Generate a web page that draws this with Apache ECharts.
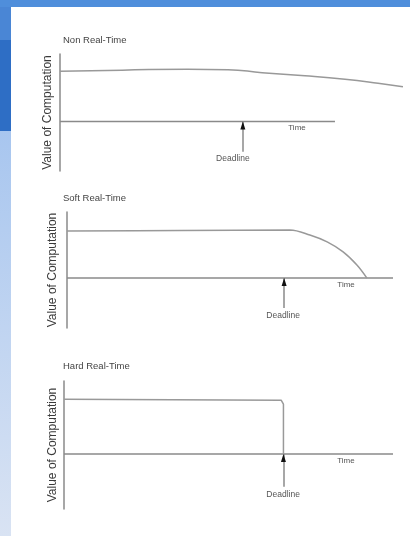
<!DOCTYPE html>
<html>
<head>
<meta charset="utf-8">
<script src="https://cdn.jsdelivr.net/npm/echarts@6/dist/echarts.min.js"></script>
<style>
html,body{margin:0;padding:0;background:#fff;}
#chart{width:410px;height:536px;}
</style>
</head>
<body>
<div id="chart"></div>
<script>
// ---- data ----
const chartTitles = ['Non Real-Time', 'Soft Real-Time', 'Hard Real-Time'];
const yAxisName = 'Value of Computation';
const timeLabel = 'Time';
const deadlineLabel = 'Deadline';

const nonRealTimeCurve = [[0,10.0],[18,10.2],[37,10.4],[48.7,10.3],[58.6,9.7],[71,9.1],[82.6,8.4],[92.2,7.6],[99.4,6.9]];
const softRealTimeCurve = [[0,9.9],[34.7,10.0],[68.4,10.1],[74.5,9.05],[79.8,7.6],[84.7,5.5],[89.0,2.7],[92.0,0]];
const hardRealTimeCurve = [[0,10.1],[66.0,9.95],[66.5,9.75],[66.7,9.2],[66.7,0]];

const timeAxisEnd = [79.7, 100, 100];
const deadlines = [53.0, 66.6, 66.7];
const deadlineShaftBottom = [-6.0, -6.3, -6.1];
const yMin = [-9.8, -10.5, -10.2];
const yMax = [13.4, 13.9, 13.5];
const xMax = [100, 100, 100];

// ---- layout ----
const grids = [
  {left: 60, top: 54, width: 345, height: 117},
  {left: 67, top: 212, width: 326, height: 116},
  {left: 64, top: 381, width: 329, height: 128}
];
const titleTops = [30, 188, 356];
const nameGaps = [6, 8, 5];
const deadlineLabelPos = [[50.1,-7.4],[66.3,-8.0],[66.6,-7.6]];
const timeLabelPos = [[68.7,-1.3],[85.6,-1.5],[85.7,-1.3]];
const curves = [nonRealTimeCurve, softRealTimeCurve, hardRealTimeCurve];
const smoothFlags = [true, 0.35, false];

const FONT = '"Liberation Sans", Arial, sans-serif';
const AXIS_COLOR = '#8a8a8a';
const CURVE_COLOR = '#999999';

const chart = echarts.init(document.getElementById('chart'), null, {renderer: 'canvas'});

const xAxes = [], yAxes = [], series = [], titles = [];
for (let i = 0; i < 3; i++) {
  titles.push({
    text: chartTitles[i], left: 58, top: titleTops[i],
    textStyle: {fontSize: 9.5, fontWeight: 'normal', color: '#444', fontFamily: FONT}
  });
  xAxes.push({
    type: 'value', gridIndex: i, min: 0, max: xMax[i],
    show: false
  });
  yAxes.push({
    type: 'value', gridIndex: i, min: yMin[i], max: yMax[i],
    axisLine: {show: true, onZero: false, lineStyle: {color: AXIS_COLOR, width: 1.5}},
    axisTick: {show: false}, axisLabel: {show: false}, splitLine: {show: false},
    name: yAxisName, nameLocation: 'middle', nameRotate: 90, nameGap: nameGaps[i],
    nameTextStyle: {fontSize: 12, color: '#3a3a3a', fontFamily: FONT}
  });
  // time axis line with deadline arrow & labels
  series.push({
    type: 'line', xAxisIndex: i, yAxisIndex: i,
    data: [[0,0],[timeAxisEnd[i],0]],
    symbol: 'none', silent: true, animation: false,
    lineStyle: {color: AXIS_COLOR, width: 1.5},
    markLine: {
      silent: true, animation: false, symbol: ['none','none'],
      lineStyle: {color: AXIS_COLOR, width: 1.5, type: 'solid'},
      label: {show: false},
      data: [[{coord: [deadlines[i], deadlineShaftBottom[i]]}, {coord: [deadlines[i], 0]}]]
    },
    markPoint: {
      silent: true, animation: false,
      data: [
        {coord: [deadlines[i], 0], symbol: 'triangle', symbolSize: [5, 8], symbolOffset: [0, 4],
          itemStyle: {color: '#111'}, label: {show: false}},
        {coord: deadlineLabelPos[i], symbolSize: 0,
          label: {show: true, position: 'inside', formatter: deadlineLabel, fontSize: 8.5, color: '#555', fontFamily: FONT}},
        {coord: timeLabelPos[i], symbolSize: 0,
          label: {show: true, position: 'inside', formatter: timeLabel, fontSize: 8, color: '#555', fontFamily: FONT}}
      ]
    }
  });
  series.push({
    type: 'line', xAxisIndex: i, yAxisIndex: i,
    data: curves[i], smooth: smoothFlags[i],
    symbol: 'none', silent: true, animation: false,
    lineStyle: {color: CURVE_COLOR, width: 1.5}
  });
}

chart.setOption({
  backgroundColor: '#ffffff',
  animation: false,
  title: titles,
  grid: grids,
  xAxis: xAxes,
  yAxis: yAxes,
  series: series,
  graphic: [
    {type: 'rect', silent: true, z: -10, shape: {x: 0, y: 0, width: 410, height: 7}, style: {fill: '#4f8edb'}},
    {type: 'rect', silent: true, z: -10, shape: {x: 0, y: 7, width: 11, height: 33}, style: {fill: '#4a86d5'}},
    {type: 'rect', silent: true, z: -10, shape: {x: 0, y: 40, width: 11, height: 91}, style: {fill: '#2e6ec5'}},
    {type: 'rect', silent: true, z: -10, shape: {x: 0, y: 131, width: 11, height: 405},
      style: {fill: new echarts.graphic.LinearGradient(0, 0, 0, 1, [
        {offset: 0, color: '#a8c6ef'}, {offset: 1, color: '#d9e3f3'}])}}
  ]
});
</script>
</body>
</html>
